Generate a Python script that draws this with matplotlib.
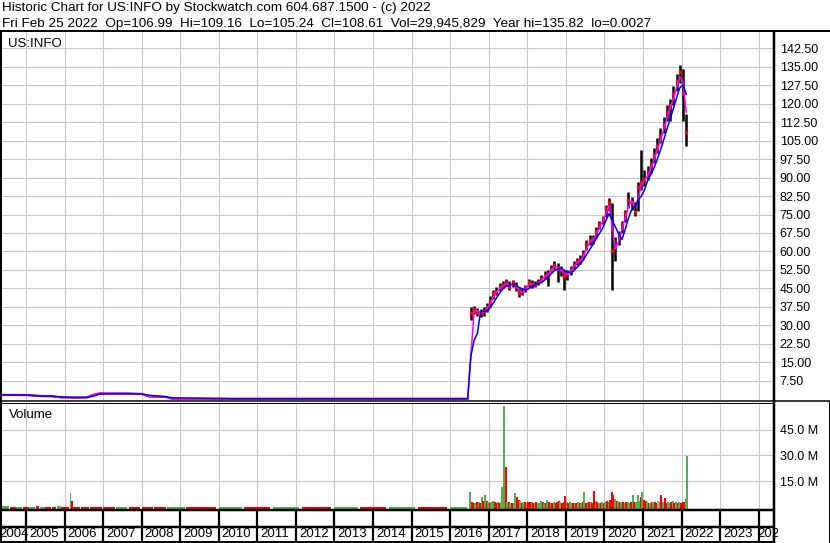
import numpy as np
import pandas as pd
import matplotlib
matplotlib.use("Agg")
import matplotlib.pyplot as plt
import matplotlib.transforms as mtransforms

plt.rcParams['font.family'] = ['Liberation Sans', 'DejaVu Sans']

W, H = 830, 543

# === header ===
title_1 = "Historic Chart for US:INFO by Stockwatch.com 604.687.1500 - (c) 2022"
title_2 = ("Fri Feb 25 2022  Op=106.99  Hi=109.16  Lo=105.24  Cl=108.61  "
           "Vol=29,945,829  Year hi=135.82  lo=0.0027")
symbol = "US:INFO"

# === price before the 2016 jump (sparse readings) ===
early_dates = ['2004-05-01', '2004-09-01', '2005-01-01', '2005-06-01', '2005-09-01',
               '2005-12-01', '2006-04-01', '2006-08-01', '2006-10-01', '2006-12-01',
               '2007-04-01', '2007-09-01', '2008-01-01', '2008-03-15', '2008-08-15',
               '2008-10-15', '2010-06-01', '2012-06-01', '2014-06-01', '2016-06-15']
early_close = [1.75, 1.75, 1.7, 1.3, 1.2, 0.75, 0.7, 0.75, 1.8, 2.4,
               2.3, 2.3, 2.15, 1.1, 1.0, 0.2, 0.2, 0.2, 0.2, 0.2]

# === monthly bars Jul 2016 - Feb 2022 ===
late_close = [35.0, 36.5, 35.5, 35.0, 36.0, 37.5,
              40.0, 43.0, 44.0, 45.5, 46.5, 47.5, 45.5, 47.5, 45.5, 43.0, 43.5, 45.5,
              47.5, 46.5, 46.5, 47.5, 49.0, 50.5, 51.0, 53.0, 54.5, 53.0, 52.5, 50.0,
              51.0, 52.5, 54.5, 56.0, 56.5, 59.0, 63.0, 64.5, 65.0, 68.5, 71.0, 73.0,
              77.5, 80.0, 60.0, 62.0, 66.5, 71.0, 75.5, 81.0, 80.0, 76.0, 86.0, 88.0,
              89.5, 92.0, 95.0, 99.0, 103.0, 107.0, 111.5, 116.5, 119.5, 124.0, 129.0, 133.0,
              124.5, 108.6]
late_high = [37.5, 38.0, 37.0, 36.5, 37.5, 39.0,
             42.0, 44.5, 45.5, 47.0, 48.0, 49.0, 48.0, 48.5, 47.5, 45.0, 45.0, 46.5,
             49.0, 48.5, 48.0, 49.0, 50.5, 52.0, 52.5, 54.5, 56.0, 55.5, 54.0, 52.5,
             52.5, 54.0, 56.0, 57.5, 58.5, 60.5, 64.5, 66.5, 66.5, 70.0, 72.5, 74.5,
             79.0, 81.8, 79.5, 66.0, 68.5, 72.5, 77.0, 84.0, 82.0, 80.0, 88.0, 101.0,
             93.0, 94.5, 98.0, 102.0, 106.0, 110.0, 114.5, 119.5, 122.0, 127.0, 132.0, 135.8,
             134.0, 116.0]
late_low = [32.0, 34.5, 34.0, 33.5, 34.0, 35.5,
            37.5, 40.5, 42.5, 44.0, 45.0, 46.0, 44.5, 45.5, 44.0, 41.5, 42.5, 43.5,
            45.5, 45.0, 45.5, 46.5, 47.5, 49.0, 46.0, 51.5, 53.0, 47.5, 50.0, 44.5,
            48.5, 50.5, 53.0, 54.5, 55.0, 57.0, 60.5, 62.5, 63.0, 65.5, 69.0, 71.0,
            74.0, 76.5, 44.5, 56.0, 62.5, 67.5, 72.0, 77.5, 77.0, 74.5, 76.5, 85.0,
            86.5, 89.0, 92.0, 96.0, 100.0, 104.0, 108.0, 113.0, 113.0, 119.5, 125.0, 128.5,
            113.0, 103.0]

# === volume (millions) ===
early_vol_dates = ['2004-05-20', '2004-06-20', '2004-08-01', '2004-10-01', '2004-12-01',
                   '2005-02-01', '2005-04-01', '2005-05-10', '2005-07-01', '2005-09-01',
                   '2005-10-20', '2005-12-01', '2006-01-15', '2006-02-20', '2006-03-05',
                   '2006-03-20', '2006-06-01', '2006-09-01', '2007-01-01', '2007-05-01',
                   '2007-09-01', '2008-01-01', '2008-05-01', '2008-09-01', '2009-03-01',
                   '2010-01-01', '2010-09-01', '2011-06-01', '2012-03-01', '2013-01-01',
                   '2013-09-01', '2014-06-01', '2015-03-01', '2016-01-01']
early_vol = [0.9, 0.4, 0.2, 0.15, 0.2, 0.15, 0.6, 0.3, 0.2, 0.1,
             0.4, 0.2, 0.1, 8.4, 3.8, 0.3, 0.1, 0.15, 0.1, 0.12,
             0.1, 0.1, 0.12, 0.05, 0.05, 0.05, 0.05, 0.05, 0.05, 0.05,
             0.05, 0.05, 0.05, 0.05]
early_vol_col = "ggrgrgrgrrgrrgrrrrrgrrrgrgrgrgrgrg"

# twice a month, Jul 2016 - Feb 2022
late_vol = [8.6, 2.8, 2.4, 2.2, 2.8, 3.0, 2.5, 6.1, 3.5, 7.2, 3.8, 3.2,
            2.6, 3.0, 3.5, 3.2, 2.6, 2.9, 2.5, 3.0, 11.5, 58.5, 23.5, 3.0,
            2.8, 2.4, 2.6, 2.5, 8.0, 6.1, 4.0, 3.3, 2.6, 3.0, 2.7, 2.4,
            3.2, 2.8, 3.0, 2.5, 2.4, 2.7, 2.6, 2.2, 3.8, 2.9, 2.6, 2.4,
            4.2, 3.2, 2.5, 2.3, 2.8, 2.4, 3.0, 3.6, 2.8, 2.6, 3.1, 6.3,
            3.0, 2.6, 2.8, 2.4, 2.6, 2.2, 2.5, 2.7, 2.4, 2.6, 2.8, 8.6,
            2.6, 2.9, 3.0, 2.7, 2.5, 9.2, 3.4, 2.8, 2.6, 2.4, 2.7, 2.2,
            2.8, 3.3, 3.0, 4.2, 8.6, 7.2, 4.5, 3.5, 3.0, 2.8, 3.2, 2.7,
            2.6, 3.0, 2.8, 2.5, 3.0, 7.2, 3.2, 2.9, 7.2, 3.8, 6.1, 8.6,
            3.9, 3.5, 2.8, 2.6, 2.4, 2.7, 2.8, 3.0, 2.6, 3.6, 2.8, 7.2,
            3.0, 5.2, 2.6, 3.0, 2.4, 2.7, 3.4, 2.6, 3.0, 2.5, 2.8, 2.4,
            3.0, 3.2, 4.7, 29.9]
late_vol_col = ("grrgrgrgrgrg"
                "rggrrgrgggrgrgrggrrgrgrg"
                "rrgrgrgggrgrgrgrgrrrgrrr"
                "grggrgrgrgrgrgrgrrgrgrgr"
                "grgrrrgrgrgrgrggrgrgggrg"
                "rrgrgrgrrkgrgrrggrgrgrgr"
                "rrgg")

price_ticks = np.arange(7.5, 143, 7.5)
vol_ticks = [15, 30, 45]
years = list(range(2004, 2025))

VCOL = {'g': '#4cb34c', 'r': '#ff0000', 'k': '#a8a8a8'}


def to_year(d):
    d = pd.DatetimeIndex(d)
    return np.asarray(d.year + (d.dayofyear - 1) / 365.25)


months = pd.period_range('2016-07', '2022-02', freq='M').to_timestamp() + pd.Timedelta(days=14)
halves = []
for m in pd.period_range('2016-07', '2022-02', freq='M').to_timestamp():
    halves += [m, m + pd.Timedelta(days=15)]
halves = pd.DatetimeIndex(halves)

close = pd.concat([pd.Series(early_close, index=pd.DatetimeIndex(early_dates)),
                   pd.Series(late_close, index=months)])
ma_fast = close.rolling('45D').mean()
ma_slow = close.rolling('120D').mean()

# === figure / layout (pixel boxes) ===
fig = plt.figure(figsize=(W / 100, H / 100), dpi=100)


def box(x0, y0, x1, y1):
    return [x0 / W, 1 - y1 / H, (x1 - x0) / W, (y1 - y0) / H]


XL, XR = 2, 773.5
ax_p = fig.add_axes(box(XL, 31, XR, 400))
ax_v = fig.add_axes(box(XL, 402.5, XR, 509.5), sharex=ax_p)
ax_s = fig.add_axes(box(XL, 511, XR, 526), sharex=ax_p)
ax_y = fig.add_axes(box(XL, 527.5, XR, 541), sharex=ax_p)

px_per_year = 38.56
x_left = 2005 - (26 - XL) / px_per_year
x_right = 2005 + (XR - 26) / px_per_year

for ax in (ax_p, ax_v, ax_s, ax_y):
    for s in ax.spines.values():
        s.set_visible(False)
    ax.set_xlim(x_left, x_right)
    ax.set_xticks(years[1:])
    ax.tick_params(axis='x', length=0, labelbottom=False)

grid_kw = dict(color='#c8c8c8', lw=0.8)

# --- price panel ---
xm = to_year(months)
ax_p.vlines(xm, late_low, late_high, color='black', lw=1.8, zorder=2)
ax_p.plot(xm, late_close, 's', color='red', ms=1.6, zorder=3)
ax_p.plot(to_year(early_dates), early_close, color='red', lw=1.6, zorder=2)
xc = to_year(close.index)
ax_p.plot(xc, ma_fast.values, color='#ff00ff', lw=1.1, zorder=4)
ax_p.plot(xc, ma_slow.values, color='#0000ff', lw=1.1, zorder=5)
ax_p.set_ylim(-0.3, 149.5)
ax_p.set_yticks(price_ticks)
ax_p.set_yticklabels([f'{v:.2f}' for v in price_ticks])
ax_p.yaxis.tick_right()
ax_p.tick_params(axis='y', length=0, pad=4.5, labelsize=9)
ax_p.grid(True, **grid_kw)
ax_p.set_axisbelow(True)

# --- volume panel ---
v_bottom = -1.4
xe = to_year(early_vol_dates)
xh = to_year(halves)
we = np.diff(np.append(xe, xh[0])) * 0.9
ax_v.bar(xe, np.array(early_vol) - v_bottom, bottom=v_bottom, width=we, align='edge',
         color=[VCOL[c] for c in early_vol_col], lw=0)
ax_v.bar(xh, np.array(late_vol) - v_bottom, bottom=v_bottom, width=19 / 365.25, align='edge',
         color=[VCOL[c] for c in late_vol_col], lw=0)
ax_v.set_ylim(v_bottom, 60.7)
ax_v.set_yticks(vol_ticks)
ax_v.set_yticklabels([f'{v:.1f} M' for v in vol_ticks])
ax_v.yaxis.tick_right()
ax_v.tick_params(axis='y', length=0, pad=4.5, labelsize=9)
ax_v.grid(True, **grid_kw)
ax_v.set_axisbelow(True)

# --- year strip and labels ---
for ax in (ax_s, ax_y):
    ax.set_yticks([])
    ax.set_ylim(0, 1)
    for yr in years[1:]:
        ax.axvline(yr, color='black', lw=1.6)

label_clip = mtransforms.Bbox.from_extents(0, 0, 778, H)
for yr in years:
    if yr < x_left:
        dx, xpos = -3, x_left
    elif yr == years[-1]:
        dx, xpos = -1, yr
    else:
        dx, xpos = 3, yr
    tr = mtransforms.offset_copy(ax_y.transData, fig=fig, x=dx, y=0, units='dots')
    t = ax_y.text(xpos, 0.5, str(yr), transform=tr, ha='left', va='center',
                  fontsize=9.5)
    t.set_clip_box(label_clip)
    t.set_clip_on(True)

# --- texts ---
fig.text(2 / W, 1 - 11 / H, title_1, fontsize=9.7, va='baseline', ha='left')
fig.text(2 / W, 1 - 26.5 / H, title_2, fontsize=9.7, va='baseline', ha='left')
fig.text(8 / W, 1 - 46.5 / H, symbol, fontsize=9.5, va='baseline', ha='left')
fig.text(9 / W, 1 - 418 / H, "Volume", fontsize=9.5, va='baseline', ha='left')

# --- frame lines in pixel space ---
over = fig.add_axes([0, 0, 1, 1], zorder=10)
over.set_xlim(0, W)
over.set_ylim(H, 0)
over.axis('off')


def hline(y, x0, x1, lw):
    over.plot([x0, x1], [y, y], color='black', lw=lw * 0.72, solid_capstyle='butt')


def vline(x, y0, y1, lw):
    over.plot([x, x], [y0, y1], color='black', lw=lw * 0.72, solid_capstyle='butt')


hline(30.5, 0, W, 2)
hline(400.5, 0, W, 1.5)
hline(402.5, 0, 774, 1)
hline(510, 0, 774, 2.5)
hline(526.7, 0, 774, 2.5)
hline(541.8, 0, 774, 2)
vline(1, 30, H, 2)
vline(774.2, 30, H, 2.5)
vline(828.5, 400, H, 1)

fig.savefig('out.png', dpi=100)
